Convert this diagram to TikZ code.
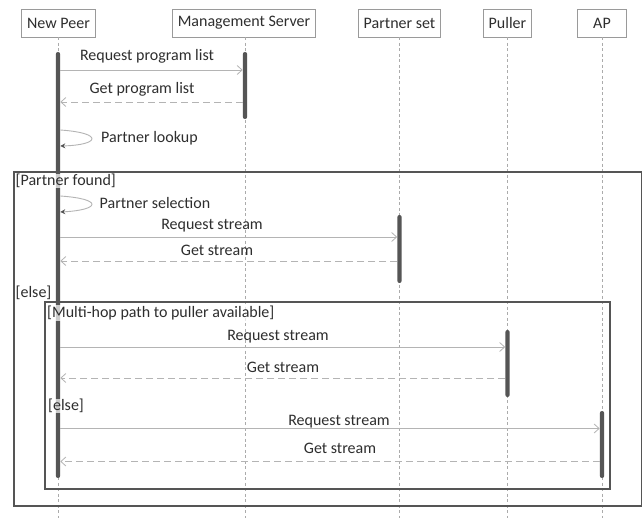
\documentclass[tikz,border=0pt]{standalone}
\usepackage{fontspec}
\setmainfont{Carlito}
\usetikzlibrary{arrows.meta}
\definecolor{ink}{HTML}{2E2E2E}
\definecolor{boxline}{HTML}{9A9A9A}
\definecolor{lifeline}{HTML}{ABABAB}
\definecolor{msgline}{HTML}{B4B4B4}
\definecolor{bar}{HTML}{555555}
\definecolor{framecol}{HTML}{555555}
\tikzset{
  every node/.style={text=ink, font=\fontsize{16}{18}\selectfont},
  lifebox/.style={draw=boxline, line width=0.8pt, fill=white, minimum height=28pt, inner xsep=5.5pt, anchor=center},
  lifeln/.style={draw=lifeline, line width=0.8pt, dash pattern=on 3pt off 2.5pt},
  actbar/.style={draw=none, fill=bar, rounded corners=2pt, minimum width=4.2pt, inner sep=0pt},
  msg/.style={draw=msgline, line width=0.9pt, -{Straight Barb[length=5pt, width=9pt, line width=0.8pt]}},
  ret/.style={draw=msgline, line width=0.9pt, dash pattern=on 7pt off 4pt, -{Straight Barb[length=5pt, width=9pt, line width=0.8pt]}},
  selfmsg/.style={draw=msgline, line width=0.9pt, -{Stealth[length=5pt, width=5pt, fill=bar, color=bar]}},
  lbl/.style={inner sep=0pt},
  guard/.style={inner sep=0.5pt, anchor=west, fill=white, fill opacity=0.7, text opacity=1},
  outerframe/.style={draw=framecol, line width=1.8pt},
  innerframe/.style={draw=framecol, line width=1.3pt},
}
\begin{document}
\begin{tikzpicture}[x=1pt, y=-1pt]
\useasboundingbox[fill=white] (0,0) rectangle (643,518);

% participants
\node[lifebox] (np) at (58.5,23) {New Peer};
\node[lifebox] (ms) at (244,23) {Management Server};
\node[lifebox] (ps) at (399.5,23) {Partner set};
\node[lifebox] (pl) at (507.5,23) {Puller};
\node[lifebox, minimum width=49pt] (ap) at (602,23) {AP};

% lifelines
\foreach \p/\x in {np/58, ms/245, ps/399.5, pl/507.5, ap/602}{
  \coordinate (\p end) at (\x,518);
  \draw[lifeln] (\p.south -| \p end) -- (\p end);
}

% combined fragments
\draw[outerframe] (14,172) rectangle (641.5,506);
\draw[innerframe] (45,302) rectangle (610,489);

% activation bars
\node[actbar, minimum height=426pt] (npbar) at (58,265) {};
\node[actbar, minimum height=67pt] (msbar) at (245,85.5) {};
\node[actbar, minimum height=68pt] (psbar) at (399.5,249) {};
\node[actbar, minimum height=67pt] (plbar) at (507.5,363.5) {};
\node[actbar, minimum height=67pt] (apbar) at (602,444.5) {};

% program list exchange
\draw[msg] (npbar.east |- 0,70) -- (msbar.west |- 0,70);
\node[lbl] at (147,56) {Request program list};
\draw[ret] (msbar.west |- 0,102) -- (npbar.east |- 0,102);
\node[lbl] at (142,89) {Get program list};

% partner lookup
\draw[selfmsg] (npbar.east |- 0,130) .. controls (104,133) and (100,145) .. (npbar.east |- 0,146);
\node[lbl, anchor=west] at (101,138) {Partner lookup};

% partner found
\node[guard] at (15,181) {[Partner found]};
\draw[selfmsg] (npbar.east |- 0,196) .. controls (104,199) and (100,210) .. (npbar.east |- 0,212);
\node[lbl, anchor=west] at (99.5,203) {Partner selection};
\draw[msg] (npbar.east |- 0,237) -- (psbar.west |- 0,237);
\node[lbl] at (212,226) {Request stream};
\draw[ret] (psbar.west |- 0,261) -- (npbar.east |- 0,261);
\node[lbl] at (217,250) {Get stream};

% else branch
\node[guard] at (15,293) {[else]};
\node[guard] at (46.5,313) {[Multi-hop path to puller available]};
\draw[msg] (npbar.east |- 0,347) -- (plbar.west |- 0,347);
\node[lbl] at (278,337) {Request stream};
\draw[ret] (plbar.west |- 0,378) -- (npbar.east |- 0,378);
\node[lbl] at (283,367) {Get stream};

\node[guard] at (47.5,406) {[else]};
\draw[msg] (npbar.east |- 0,428.5) -- (apbar.west |- 0,428.5);
\node[lbl] at (339,421.5) {Request stream};
\draw[ret] (apbar.west |- 0,461.5) -- (npbar.east |- 0,461.5);
\node[lbl] at (340,448) {Get stream};
\end{tikzpicture}
\end{document}
